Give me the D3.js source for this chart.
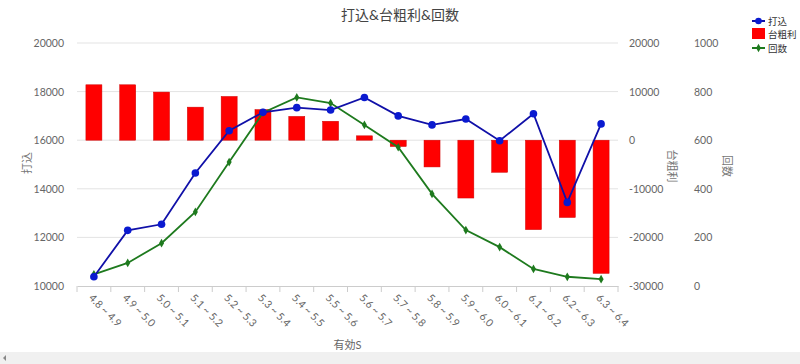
<!DOCTYPE html>
<html><head><meta charset="utf-8">
<script src="https://cdn.jsdelivr.net/npm/d3@7"></script>
<style>
body{margin:0;background:#fff;}
svg text{font-family:Lato,"Noto Sans CJK JP",sans-serif;}
</style></head>
<body><svg id="c" width="800" height="364"></svg>
<script>
const categories = ["4.8 ~ 4.9","4.9 ~ 5.0","5.0 ~ 5.1","5.1 ~ 5.2","5.2 ~ 5.3","5.3 ~ 5.4","5.4 ~ 5.5","5.5 ~ 5.6","5.6 ~ 5.7","5.7 ~ 5.8","5.8 ~ 5.9","5.9 ~ 6.0","6.0 ~ 6.1","6.1 ~ 6.2","6.2 ~ 6.3","6.3 ~ 6.4"];
const uchikomi = [10380,12290,12540,14650,16390,17150,17340,17240,17760,17000,16630,16870,15980,17090,13440,16670];
const arari = [11400,11400,9900,6800,9000,6300,4900,3900,900,-1300,-5500,-11900,-6600,-18400,-15900,-27400];
const kaisu = [48,95,176,305,510,713,776,753,663,571,379,230,160,70,38,28];
const leftTicks = [10000,12000,14000,16000,18000,20000];
const midTicks = [-30000,-20000,-10000,0,10000,20000];
const rightTicks = [0,200,400,600,800,1000];
const title = "打込&台粗利&回数";
const seriesNames = ["打込","台粗利","回数"];
const xTitle = "有効S", yTitleL = "打込", yTitleM = "台粗利", yTitleR = "回数";

const svg = d3.select("#c");
const L = 77, R = 618, T = 43, B = 286;
const x = d3.scaleBand().domain(categories).range([L, R]);
const yL = d3.scaleLinear().domain([10000,20000]).range([B, T]);
const yM = d3.scaleLinear().domain([-30000,20000]).range([B, T]);
const yR = d3.scaleLinear().domain([0,1000]).range([B, T]);

// grid
svg.append("g").selectAll("line").data(leftTicks.slice(1)).join("line")
  .attr("x1", L).attr("x2", R).attr("y1", d=>yL(d)).attr("y2", d=>yL(d))
  .attr("stroke","#e3e3e3").attr("stroke-width",1);

// axis labels
const lab = (g)=>g.attr("fill","#666").attr("font-size","10.5px");
svg.append("g").selectAll("text").data(leftTicks).join("text")
  .attr("x", 64).attr("y", d=>yL(d)+4).attr("text-anchor","end").text(d=>d).call(lab);
svg.append("g").selectAll("text").data(midTicks).join("text")
  .attr("x", 629).attr("y", d=>yM(d)+4).attr("text-anchor","start").text(d=>d).call(lab);
svg.append("g").selectAll("text").data(rightTicks).join("text")
  .attr("x", 694).attr("y", d=>yR(d)+4).attr("text-anchor","start").text(d=>d).call(lab);

// axis titles
svg.append("text").attr("transform","translate(31,163) rotate(-90)").attr("text-anchor","middle")
  .attr("fill","#777").attr("font-size","11px").text(yTitleL);
svg.append("text").attr("transform","translate(668,166) rotate(90)").attr("text-anchor","middle")
  .attr("fill","#777").attr("font-size","11px").text(yTitleM);
svg.append("text").attr("transform","translate(723,166) rotate(90)").attr("text-anchor","middle")
  .attr("fill","#777").attr("font-size","11px").text(yTitleR);

// bars
const bw = 16;
svg.append("g").selectAll("rect").data(categories).join("rect")
  .attr("x", d=>x(d)+x.bandwidth()/2-bw/2).attr("width", bw)
  .attr("y", (d,i)=>Math.min(yM(arari[i]), yM(0)))
  .attr("height", (d,i)=>Math.abs(yM(arari[i])-yM(0)))
  .attr("fill","#ff0000").attr("stroke","#d00000").attr("stroke-width",0.5);

// x axis
const xa = svg.append("g").attr("transform",`translate(0,${B})`)
  .call(d3.axisBottom(x).tickSize(0).tickFormat(""));
xa.select(".domain").attr("stroke","#ccc");
svg.append("g").selectAll("line").data(d3.range(categories.length+1)).join("line")
  .attr("x1", i=>L+i*x.step()).attr("x2", i=>L+i*x.step()).attr("y1",B).attr("y2",B+6)
  .attr("stroke","#ccc");
svg.append("g").selectAll("text").data(categories).join("text")
  .attr("transform", d=>`translate(${x(d)+x.bandwidth()/2-3},${B+10}) rotate(45)`)
  .attr("text-anchor","start").attr("dy","0.35em").attr("fill","#666").attr("font-size","10.5px")
  .text(d=>d);
svg.append("text").attr("x",(L+R)/2).attr("y",349).attr("text-anchor","middle")
  .attr("fill","#666").attr("font-size","11px").text(xTitle);

// lines
const cx = (d)=>x(d)+x.bandwidth()/2;
const lineB = d3.line().x((d,i)=>cx(categories[i])).y(d=>yL(d));
const lineG = d3.line().x((d,i)=>cx(categories[i])).y(d=>yR(d));
svg.append("path").datum(kaisu).attr("d",lineG).attr("fill","none").attr("stroke","#1e7a1e").attr("stroke-width",1.8);
svg.append("g").selectAll("path").data(kaisu).join("path")
  .attr("d", d3.symbol(d3.symbolDiamond, 22))
  .attr("transform",(d,i)=>`translate(${cx(categories[i])},${yR(d)})`).attr("fill","#1e7a1e");
svg.append("path").datum(uchikomi).attr("d",lineB).attr("fill","none").attr("stroke","#1010a8").attr("stroke-width",1.8);
svg.append("g").selectAll("circle").data(uchikomi).join("circle")
  .attr("cx",(d,i)=>cx(categories[i])).attr("cy",d=>yL(d)).attr("r",3.8).attr("fill","#0a1ad0");

// title
svg.append("text").attr("x",400).attr("y",20).attr("text-anchor","middle").attr("fill","#444")
  .attr("font-size","14px").text(title);

// legend
const lg = svg.append("g");
const ly = [21,34,48];
lg.append("line").attr("x1",752).attr("x2",765).attr("y1",ly[0]).attr("y2",ly[0]).attr("stroke","#1010a8").attr("stroke-width",2);
lg.append("circle").attr("cx",758.5).attr("cy",ly[0]).attr("r",3.3).attr("fill","#0a1ad0");
lg.append("rect").attr("x",752).attr("y",ly[1]-6).attr("width",13).attr("height",11).attr("fill","#ff0000");
lg.append("line").attr("x1",752).attr("x2",765).attr("y1",ly[2]).attr("y2",ly[2]).attr("stroke","#1e7a1e").attr("stroke-width",2);
lg.append("path").attr("d",d3.symbol(d3.symbolDiamond,20)).attr("transform",`translate(758.5,${ly[2]})`).attr("fill","#1e7a1e");
lg.selectAll("text").data(seriesNames).join("text").attr("x",768).attr("y",(d,i)=>ly[i]+4)
  .attr("fill","#333").attr("font-size","9.5px").text(d=>d);

// bottom scrollbar
svg.append("rect").attr("x",0).attr("y",352).attr("width",800).attr("height",12).attr("fill","#f0f0f0");
svg.append("path").attr("d","M6,355 L3,358 L6,361 Z").attr("fill","#888");
</script></body></html>
